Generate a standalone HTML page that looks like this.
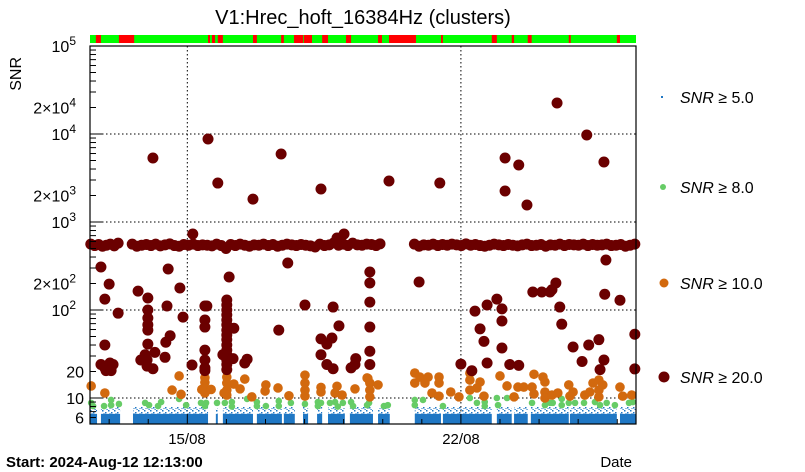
<!DOCTYPE html>
<html><head><meta charset="utf-8">
<style>
html,body{margin:0;padding:0;background:#fff;}
svg{display:block;font-family:"Liberation Sans",sans-serif;}
</style></head>
<body>
<svg id="chart" width="805" height="472" viewBox="0 0 805 472">
<defs>
<pattern id="noise" width="6" height="5" patternUnits="userSpaceOnUse">
<rect x="0" y="0" width="1.5" height="1.5" fill="#1f77c4"/><rect x="3" y="2" width="1.5" height="1.5" fill="#1f77c4"/><rect x="4.5" y="4" width="1.2" height="1" fill="#1f77c4"/><rect x="1.5" y="3" width="1" height="1" fill="#1f77c4"/>
</pattern>
</defs>
<text x="363" y="24" font-size="20" text-anchor="middle" fill="#000">V1:Hrec_hoft_16384Hz (clusters)</text>
<text transform="translate(21,57) rotate(-90)" font-size="16" text-anchor="end">SNR</text>
<g id="flags"></g>
<g id="grid"></g>
<g id="blue"></g>
<g id="green"></g>
<g id="orange"></g>
<g id="red"></g>
<g id="axes"></g>
<text x="187" y="444" font-size="15" text-anchor="middle">15/08</text>
<text x="461" y="444" font-size="15" text-anchor="middle">22/08</text>
<text x="6" y="467" font-size="15" font-weight="bold">Start: 2024-Aug-12 12:13:00</text>
<text x="632" y="467" font-size="15" text-anchor="end">Date</text>
<g>
<rect x="661" y="96" width="2" height="2" fill="#1f77c4"/>
<text x="680" y="103" font-size="16"><tspan font-style="italic">SNR</tspan> ≥ 5.0</text>
<circle cx="663" cy="187" r="3" fill="#66cc66"/>
<text x="680" y="193" font-size="16"><tspan font-style="italic">SNR</tspan> ≥ 8.0</text>
<circle cx="664" cy="283" r="4.5" fill="#d2690e"/>
<text x="680" y="289" font-size="16"><tspan font-style="italic">SNR</tspan> ≥ 10.0</text>
<circle cx="664" cy="377" r="5.5" fill="#6b0000"/>
<text x="680" y="383" font-size="16"><tspan font-style="italic">SNR</tspan> ≥ 20.0</text>
</g>
</svg>
<script>
// ---- data (time in days since start, SNR) ----
const flagOffStart=[0.15,0.74,3.02,3.12,3.27,4.17,4.89,5.22,5.47,5.94,6.55,7.37,7.65,8.98,10.28,10.79,11.2,12.25,13.48];
const flagOffEnd=[0.28,1.13,3.07,3.2,3.4,4.27,4.96,5.45,5.68,6.09,6.68,7.47,8.34,9.03,10.41,10.85,11.3,12.3,13.56];
const blueStart=[0,0.28,1.1,3.22,3.4,4.27,4.96,5.45,5.81,6.09,6.65,7.37,8.31,9.03,10.41,10.85,11.28,12.28,13.56];
const blueEnd=[0.18,0.77,3.02,3.27,4.17,4.91,5.24,5.58,5.94,6.52,7.24,7.67,8.98,10.28,10.79,11.2,12.25,13.48,13.97];
const greenDays=[0.03,0.08,0.36,0.54,0.54,0.74,1.41,1.51,1.74,1.82,2.28,2.46,2.84,2.97,2.94,3.25,3.45,3.63,3.63,4.02,4.27,4.27,4.5,4.83,4.83,5.14,5.5,5.83,5.83,5.91,6.14,6.27,6.34,6.47,6.68,6.73,7.09,7.14,7.52,7.62,8.31,8.31,8.52,9.03,9.72,9.9,10.1,10.1,10.41,10.44,10.67,11.31,11.64,11.77,11.84,12.07,12.07,12.25,12.41,12.64,12.92,13.05,13.22,13.43,13.79,13.89];
const greenSnr=[8.8,8.1,8.1,9.5,8.3,8.55,8.8,8.3,8.1,9.0,9.75,8.3,8.8,8.8,8.1,8.8,8.8,9.0,8.0,9.75,9.0,8.1,8.1,9.25,8.1,8.8,8.55,9.0,8.1,8.8,8.8,9.0,8.0,8.8,9.0,8.1,8.3,8.8,8.1,8.3,9.5,8.3,9.5,8.1,10,8.8,9.0,8.1,10,8.3,10,8.8,8.3,8.8,8.8,9.75,8.3,8.8,8.8,8.8,9.0,8.3,8.8,8.3,8.8,9.0];
const orangeDays=[0.03,0.38,2.28,2.1,2.33,2.94,2.94,2.94,2.94,2.86,3.1,3.5,3.5,3.5,3.5,3.43,3.68,3.84,3.96,4.14,4.5,4.48,4.81,5.09,5.5,5.5,5.5,5.5,5.91,5.91,6.32,6.27,6.45,6.78,7.11,7.09,7.16,7.16,7.16,7.37,8.31,8.31,8.44,8.65,8.57,8.93,8.93,8.75,8.93,9.23,9.44,9.72,9.72,9.72,9.98,9.9,10.08,10.49,10.67,10.85,10.95,11.1,11.31,11.36,11.36,11.59,11.64,11.64,11.64,11.82,11.97,12.25,12.36,12.28,12.66,12.79,12.87,13.02,13.02,13.02,13.12,13.56,13.63,13.86];
const orangeSnr=[13.7,11.4,17.8,12.3,11,17,15,13,11.4,12.5,12.5,17.3,14.8,12.3,10.8,11.4,14.4,12.7,16.4,10.3,14.1,12,13,10.6,18.2,14.8,12.3,10.5,13.2,11.7,13.6,11.4,10.8,12.7,16.7,16.9,14.8,12.3,10.3,14.1,19.2,14.8,17.3,17.3,14.8,17.3,14.8,11.4,10.5,11.7,10.3,19.2,16,12.3,15.2,13,10.5,17.8,13.7,10.3,13.3,13.3,13.3,18.6,11.1,17.3,15.2,11.7,10,10.8,11.4,14.1,11.7,10.5,10.8,11.7,14.8,16,12.3,10.3,14.1,13.3,10.5,10.8];
const redDays=[1.61,3.02,3.27,4.17,4.89,5.91,2.63,6.32,6.5,5.06,0.28,0.49,0.38,0.72,0.38,0.28,0.38,0.51,0.59,0.41,0.54,1.23,1.48,1.48,1.48,1.48,1.48,1.48,1.41,1.3,1.46,1.46,1.61,1.66,2.0,1.97,2.05,1.94,1.92,2.3,2.38,2.61,2.94,2.94,2.94,2.94,2.94,2.94,2.94,2.99,3.5,3.5,3.5,3.5,3.5,3.5,3.5,3.5,3.5,3.5,3.5,3.5,3.5,3.5,3.5,3.56,3.68,3.4,3.66,4.02,3.96,4.83,5.5,5.91,6.06,6.19,6.22,6.37,5.91,6.06,6.22,6.68,6.78,6.8,7.16,7.16,7.16,7.16,7.16,7.16,7.65,8.95,10.62,10.97,10.62,11.18,11.95,12.71,13.15,13.2,8.42,9.85,9.98,10.08,10.16,10.16,10.41,10.54,10.54,10.54,10.74,10.97,11.33,11.56,11.77,11.82,11.92,12.02,12.07,12.36,12.59,12.76,13.02,13.15,13.05,13.17,13.56,13.94,13.94,9.49,9.77];
const redSnr=[5330,8770,2770,1820,5930,2370,731,658,731,342,308,197,133,92,40,24,22,25,24,20.5,20.5,164,137,100,81,68,59,41,31,27,27,23,21.5,33,292,111,51,43,29,178,83,23.7,111,77,64,35,27,22,20.5,111,130,114,100,88,77,68,59,52,46,40,35,31,27,24,21,237,62,31,28,27.6,25,59,114,47,41,48,108,66,31,24,21.5,22,24,28,270,203,123,64,34,24,2920,2770,5330,4440,2250,1560,22500,9750,4810,370,208,97,61,44,114,25,133,103,75,37,24,23.5,160,160,160,170,203,108,69,38,26,40,46,27,21,151,129,53,21.4,24.3,20.4];
const bandDays=[0.02,0.12,0.22,0.32,0.42,0.52,0.62,0.72,1.08,1.2,1.32,1.44,1.56,1.68,1.8,1.92,2.04,2.16,2.28,2.4,2.52,2.64,2.76,2.88,3.0,3.12,3.24,3.36,3.48,3.6,3.72,3.84,3.96,4.08,4.2,4.32,4.44,4.56,4.68,4.8,4.92,5.04,5.16,5.28,5.4,5.52,5.64,5.76,5.88,6.0,6.12,6.24,6.36,6.48,6.6,6.72,6.84,6.96,7.08,7.2,7.32,7.42,8.3,8.42,8.54,8.66,8.78,8.9,9.02,9.14,9.26,9.38,9.5,9.62,9.74,9.86,9.98,10.1,10.22,10.34,10.46,10.58,10.7,10.82,10.94,11.06,11.18,11.3,11.42,11.54,11.66,11.78,11.9,12.02,12.14,12.26,12.38,12.5,12.62,12.74,12.86,12.98,13.1,13.22,13.34,13.46,13.58,13.7,13.82,13.94];
const bandSnr=[560,540,555,530,545,560,535,575,560,530,545,555,540,560,535,550,565,540,530,555,545,560,540,550,545,535,560,540,500,555,540,560,545,530,550,545,560,540,555,530,545,560,550,540,555,545,535,520,560,540,550,580,545,560,540,575,550,545,560,555,540,565,560,530,550,545,560,540,555,545,560,550,540,565,545,555,540,530,545,560,550,540,555,545,535,550,560,540,545,555,530,550,545,560,540,555,550,545,560,540,555,545,550,560,540,545,555,530,545,560];

// ---- axes ----
const X0=90,X1=636,Y0=46,Y1=424,DMAX=13.97;
const LMAX=5,LPX=88;
function xs(d){return X0+(X1-X0)*d/DMAX;}
function ys(v){return Y0+(LMAX-Math.log10(v))*LPX;}
const NS="http://www.w3.org/2000/svg";
function mk(tag,attrs,parent){const e=document.createElementNS(NS,tag);for(const k in attrs)e.setAttribute(k,attrs[k]);parent.appendChild(e);return e;}

const flags=document.getElementById('flags');
let fb=mk('rect',{x:X0,y:35,width:X1-X0,height:8,fill:'#00ff00'},flags);


flagOffStart.forEach((s,i)=>{const r=mk('rect',{x:xs(s),y:35,width:Math.max(1.5,xs(flagOffEnd[i])-xs(s)),height:8,fill:'#ff0000'},flags);

});

const grid=document.getElementById('grid');
[1e4,1e3,1e2,10].forEach(v=>{const l=mk('line',{x1:X0,x2:X1,y1:ys(v),y2:ys(v),stroke:'#000','stroke-width':1,'stroke-dasharray':'1.5,2.5'},grid);

});
[2.49,9.49].forEach(d=>{const l=mk('line',{x1:xs(d),x2:xs(d),y1:Y0,y2:Y1,stroke:'#000','stroke-width':1,'stroke-dasharray':'1.5,2.5'},grid);

});

const blue=document.getElementById('blue');
blueStart.forEach((s,i)=>{const w=xs(blueEnd[i])-xs(s);
const r=mk('rect',{x:xs(s),y:ys(6.6),width:w,height:Y1-ys(6.6),fill:'#1f77c4'},blue);


const n=mk('rect',{x:xs(s),y:ys(8),width:w,height:ys(6.6)-ys(8),fill:'url(#noise)'},blue);

});

function dots(gid,days,vals,r,col,name){const g=document.getElementById(gid);
days.forEach((d,i)=>{if(vals[i]===undefined)return;const c=mk('circle',{cx:xs(d),cy:ys(vals[i]),r:r,fill:col},g);

});}
dots('green',greenDays,greenSnr,3.3,'#66cc66','snr8-point');
dots('orange',orangeDays,orangeSnr,4.8,'#d2690e','snr10-point');
dots('red',bandDays,bandSnr,5.5,'#6b0000','snr20-point');
dots('red',redDays,redSnr,5.5,'#6b0000','snr20-point');

const ax=document.getElementById('axes');
let fr=mk('rect',{x:X0,y:Y0,width:X1-X0,height:Y1-Y0,fill:'none',stroke:'#000','stroke-width':1.2},ax);


for(let e=0;e<5;e++){for(let m=1;m<10;m++){const v=m*Math.pow(10,e);if(v<5.2||v>1e5)continue;const y=ys(v);
mk('line',{x1:X0,x2:X0+(m===1?12:6),y1:y,y2:y,stroke:'#000','stroke-width':1},ax);}}
mk('line',{x1:X0,x2:X0+12,y1:ys(1e5),y2:ys(1e5),stroke:'#000'},ax);
for(let d=0.49;d<DMAX;d+=1){mk('line',{x1:xs(d),x2:xs(d),y1:Y1,y2:Y1-((Math.round(d-0.49)%7===2)?10:5),stroke:'#000'},ax);}
const ylabels=[[1e5,'10','5'],[2e4,'2×10','4'],[1e4,'10','4'],[2e3,'2×10','3'],[1e3,'10','3'],[200,'2×10','2'],[100,'10','2'],[20,'20',''],[10,'10',''],[6,'6','']];
ylabels.forEach(t=>{const tx=mk('text',{x:t[2]?76:84,y:ys(t[0])+6,'font-size':16,'text-anchor':'end'},ax);


tx.textContent=t[1];
if(t[2]){const s=mk('tspan',{dy:-7,'font-size':12},tx);s.textContent=t[2];}});
</script>
</body></html>
